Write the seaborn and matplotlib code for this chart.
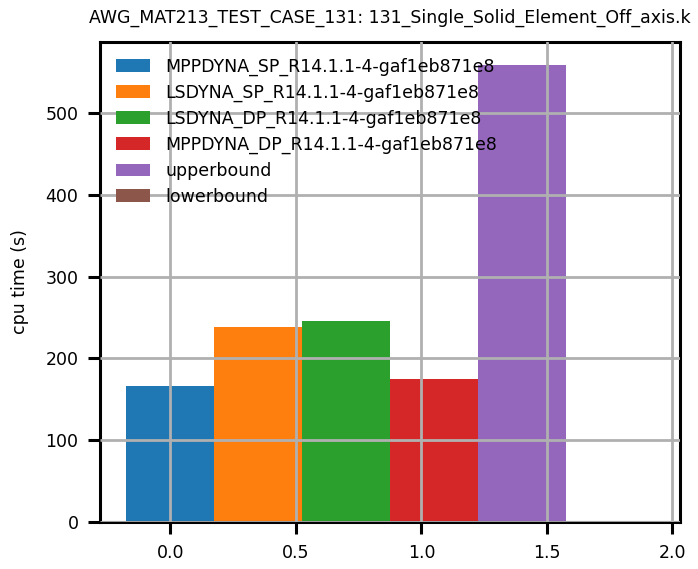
import numpy as np
import pandas as pd
import matplotlib
matplotlib.use("Agg")
import matplotlib.pyplot as plt
import seaborn as sns

# ---------------------------------------------------------
# data
# ---------------------------------------------------------
labels = [
    "MPPDYNA_SP_R14.1.1-4-gaf1eb871e8",
    "LSDYNA_SP_R14.1.1-4-gaf1eb871e8",
    "LSDYNA_DP_R14.1.1-4-gaf1eb871e8",
    "MPPDYNA_DP_R14.1.1-4-gaf1eb871e8",
    "upperbound",
    "lowerbound",
]
cpu_time = [166, 238.5, 246, 175, 559, 0]
bar_step = 0.35
positions = [i * bar_step for i in range(len(labels))]
colors = ["#1f77b4", "#ff7f0e", "#2ca02c", "#d62728", "#9467bd", "#8c564b"]

title = "AWG_MAT213_TEST_CASE_131: 131_Single_Solid_Element_Off_axis.k"

df = pd.DataFrame({"x": positions, "cpu": cpu_time, "run": labels})

# ---------------------------------------------------------
# figure
# ---------------------------------------------------------
sns.set_style("white")
plt.rcParams["font.family"] = ["DejaVu Sans"]
plt.rcParams["text.color"] = "black"
plt.rcParams["axes.labelcolor"] = "black"
plt.rcParams["xtick.color"] = "black"
plt.rcParams["ytick.color"] = "black"

fig = plt.figure(figsize=(6.98, 5.69), dpi=100)
ax = fig.add_axes([100 / 698, 1 - 522 / 569, 580 / 698, 480 / 569])

sns.barplot(
    data=df, x="x", y="cpu", hue="run", hue_order=labels,
    palette=colors, native_scale=True, width=1.0, dodge=False,
    errorbar=None, saturation=1.0, linewidth=0, ax=ax, zorder=1,
)

ax.set_xlim(positions[0] - bar_step / 2 - 0.105, positions[-1] + bar_step / 2 + 0.105)
ax.set_ylim(0, 587)
ax.set_xticks([0.0, 0.5, 1.0, 1.5, 2.0])
ax.set_xticklabels(["0.0", "0.5", "1.0", "1.5", "2.0"])
ax.set_yticks([0, 100, 200, 300, 400, 500])

ax.set_axisbelow(False)
ax.grid(True, color="#b0b0b0", linewidth=2.0)

ax.set_xlabel("")
ax.set_ylabel("cpu time (s)", fontsize=12.5, labelpad=12)
ax.set_title(title, fontsize=12.5, pad=14)

for side in ["top", "right", "left", "bottom"]:
    ax.spines[side].set_visible(True)
    ax.spines[side].set_color("black")
    ax.spines[side].set_linewidth(2.2)
ax.tick_params(axis="both", which="both", direction="out", length=8.5, width=2.2,
               labelsize=12.5, color="black", bottom=True, left=True, pad=7)

leg = ax.legend(loc="upper left", frameon=False, fontsize=12.5,
                handlelength=2.0, handleheight=0.75, labelspacing=0.45,
                handletextpad=0.85, borderaxespad=0.5)

fig.savefig("out.png", dpi=100)
